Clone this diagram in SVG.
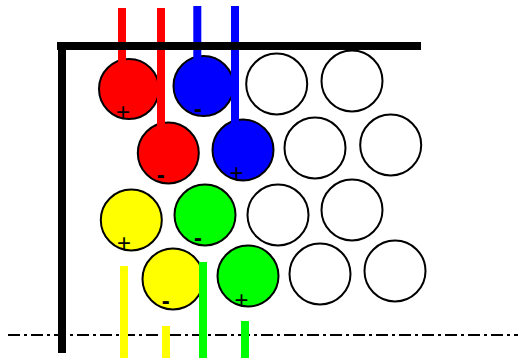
<svg xmlns="http://www.w3.org/2000/svg" width="518" height="358" viewBox="0 0 518 358">
<style>
.c{stroke:#000;stroke-width:2}
.w{fill:#fff}
.r{fill:#f00}
.b{fill:#00f}
.y{fill:#ff0}
.g{fill:#0f0}
.s{font-family:"Liberation Sans",Arial,sans-serif;font-size:24px;text-anchor:middle;fill:#000}
.m{font-weight:bold}
</style>
<rect width="518" height="358" fill="#fff"/>
<g id="axis">
<line x1="8" y1="335" x2="518" y2="335" stroke="#000" stroke-width="2" stroke-dasharray="12 4 3 4"/>
</g>
<g id="circles">
<g id="n-red1"><circle class="c r" cx="129" cy="89" r="30"/></g>
<g id="n-blue1"><circle class="c b" cx="203.5" cy="86" r="30"/></g>
<g id="n-w1"><circle class="c w" cx="276.7" cy="84" r="30.5"/></g>
<g id="n-w2"><circle class="c w" cx="352" cy="81" r="30.5"/></g>
<g id="n-red2"><circle class="c r" cx="168.3" cy="153" r="30.5"/></g>
<g id="n-blue2"><circle class="c b" cx="243" cy="150" r="30.5"/></g>
<g id="n-w3"><circle class="c w" cx="315" cy="148" r="30.5"/></g>
<g id="n-w4"><circle class="c w" cx="390.7" cy="145" r="30.5"/></g>
<g id="n-yellow1"><circle class="c y" cx="131.3" cy="220" r="30.5"/></g>
<g id="n-green1"><circle class="c g" cx="205" cy="215" r="30.5"/></g>
<g id="n-w5"><circle class="c w" cx="278" cy="215" r="30.5"/></g>
<g id="n-w6"><circle class="c w" cx="352" cy="210" r="30.5"/></g>
<g id="n-yellow2"><circle class="c y" cx="173" cy="279" r="30.5"/></g>
<g id="n-green2"><circle class="c g" cx="248" cy="276" r="30.5"/></g>
<g id="n-w7"><circle class="c w" cx="320" cy="274" r="30.5"/></g>
<g id="n-w8"><circle class="c w" cx="395" cy="271" r="30.5"/></g>
</g>
<g id="connectors">
<rect class="r" x="118" y="8" width="8" height="80"/>
<rect class="r" x="157" y="8" width="8" height="140"/>
<rect class="b" x="193.3" y="6" width="8" height="80"/>
<rect class="b" x="231" y="6" width="8" height="140"/>
<rect class="y" x="120" y="266" width="8" height="92"/>
<rect class="y" x="162" y="326" width="8" height="32"/>
<rect class="g" x="199" y="262" width="8" height="96"/>
<rect class="g" x="241" y="321" width="8" height="37"/>
</g>
<g id="frame">
<rect x="57" y="42" width="364" height="8" fill="#000"/>
<rect x="58" y="42" width="8" height="311" fill="#000"/>
</g>
<g id="signs">
<text class="s" x="123" y="120.4">+</text>
<text class="s m" x="198" y="116.5">-</text>
<text class="s m" x="160.7" y="183">-</text>
<text class="s" x="236.5" y="181.4">+</text>
<text class="s" x="124" y="250.9">+</text>
<text class="s m" x="198" y="245.5">-</text>
<text class="s m" x="165.7" y="309.3">-</text>
<text class="s" x="241.5" y="307.9">+</text>
</g>
</svg>
